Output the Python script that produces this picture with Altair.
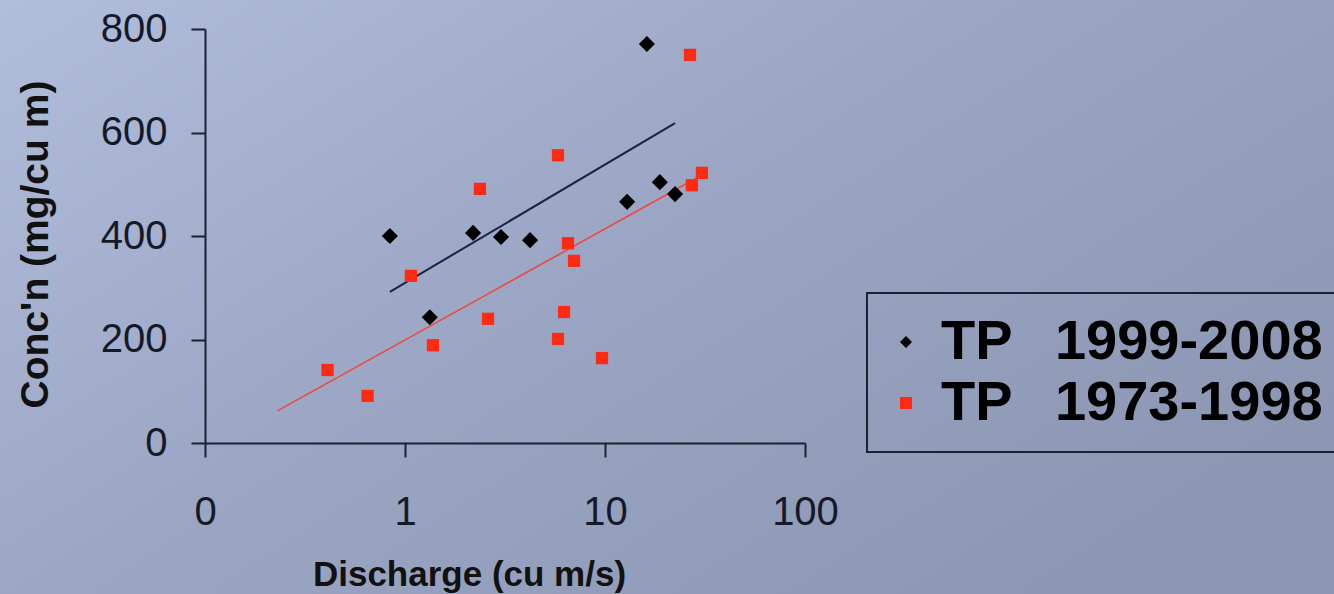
import altair as alt
import pandas as pd

# ---------------- data ----------------
GAP = "\u00a0\u00a0\u2009"
s_recent = "TP" + GAP + "1999-2008"
s_old = "TP" + GAP + "1973-1998"

recent_q = [0.84, 1.33, 2.19, 3.02, 4.22, 12.9, 16.2, 18.8, 22.4]
recent_c = [400, 243, 406, 398, 392, 466, 771, 504, 481]

old_q = [0.41, 0.65, 1.07, 1.38, 2.37, 2.6, 5.82, 5.82, 6.24, 6.53, 7.0, 9.66, 26.6, 27.2, 30.5]
old_c = [141, 91, 323, 189, 491, 240, 556, 201, 253, 386, 352, 164, 750, 498, 522]

trend_recent_q = [0.84, 22.4]
trend_recent_c = [292, 618]
trend_old_q = [0.23, 29.9]
trend_old_c = [62, 516]

x_ticks = [0.1, 1, 10, 100]
y_ticks = [0, 200, 400, 600, 800]

# ---------------- tables ----------------
pts = pd.DataFrame({
    "q": recent_q + old_q,
    "c": recent_c + old_c,
    "series": [s_recent] * len(recent_q) + [s_old] * len(old_q),
})
lines = pd.DataFrame({
    "q": trend_recent_q + trend_old_q,
    "c": trend_recent_c + trend_old_c,
    "series": [s_recent] * 2 + [s_old] * 2,
})

FONT = "Liberation Sans"
AXIS_COLOR = "#1b2133"

x_enc = alt.X(
    "q:Q",
    scale=alt.Scale(type="log", domain=[0.1, 100], nice=False),
    axis=alt.Axis(
        values=x_ticks,
        labelExpr="'' + round(datum.value)",
        labelFlush=False,
        title="Discharge (cu m/s)",
        titleFontSize=35,
        titleX=264, titleY=131, titleAlign="center", titleBaseline="middle",
        labelPadding=35, zindex=1,
    ),
)
y_enc = alt.Y(
    "c:Q",
    scale=alt.Scale(domain=[0, 800], nice=False, zero=True),
    axis=alt.Axis(
        values=y_ticks,
        labelFlush=False,
        title="Conc'n (mg/cu m)",
        titleFontSize=39,
        titleX=-170, titleY=215, titleAlign="center", titleBaseline="middle",
        titleAngle=270,
        labelPadding=24, zindex=1,
    ),
)

legend = alt.Legend(
    orient="none", legendX=662, legendY=264, title=None,
    labelFontSize=56, labelFont=FONT, labelFontWeight="bold", labelColor="#000000",
    labelLimit=2000,
    symbolSize=144, strokeColor=AXIS_COLOR, padding=21, rowPadding=5,
    labelOffset=7, symbolOffset=-10, symbolStrokeWidth=0, zindex=1,
)
color_enc = alt.Color(
    "series:N",
    scale=alt.Scale(domain=[s_recent, s_old], range=["#000000", "#ff2a12"]),
    legend=legend,
)
shape_enc = alt.Shape(
    "series:N",
    scale=alt.Scale(domain=[s_recent, s_old], range=["diamond", "square"]),
    legend=legend,
)

bg = alt.Chart(pd.DataFrame({"k": [0]})).mark_rect(
    color=alt.Gradient(
        gradient="linear",
        stops=[
            alt.GradientStop(color="#b0bddb", offset=0),
            alt.GradientStop(color="#9ba6c4", offset=0.5),
            alt.GradientStop(color="#8c97b4", offset=1),
        ],
        x1=0, y1=0, x2=1, y2=0.7,
    )
).encode(
    x=alt.value(-205), x2=alt.value(1129), y=alt.value(-29), y2=alt.value(565)
)

line_recent = alt.Chart(lines).transform_filter(
    alt.datum.series == s_recent
).mark_line(color="#1a2340", strokeWidth=2).encode(x=x_enc, y=y_enc)

line_old = alt.Chart(lines).transform_filter(
    alt.datum.series == s_old
).mark_line(color="#ec4a3c", strokeWidth=1.6).encode(x=x_enc, y=y_enc)

pts_recent = alt.Chart(pts).transform_filter(
    alt.datum.series == s_recent
).mark_point(filled=True, size=260, opacity=1, strokeWidth=0).encode(
    x=x_enc, y=y_enc, color=color_enc, shape=shape_enc
)
pts_old = alt.Chart(pts).transform_filter(
    alt.datum.series == s_old
).mark_point(filled=True, size=150, opacity=1, strokeWidth=0).encode(
    x=x_enc, y=y_enc, color=color_enc, shape=shape_enc
)

chart = alt.layer(bg, line_recent, line_old, pts_recent, pts_old).properties(
    width=600,
    height=414,
    autosize=alt.AutoSizeParams(type="none"),
    padding={"left": 205, "top": 29, "right": 529, "bottom": 151},
    background="#9ba6c4",
).configure_view(
    stroke=None
).configure_axis(
    grid=False,
    domainColor=AXIS_COLOR, domainWidth=2,
    tickColor=AXIS_COLOR, tickWidth=2, tickSize=14,
    labelFont=FONT, labelFontSize=40, labelColor="#151a28",
    titleFont=FONT, titleFontWeight="bold", titleColor="#111111",
).configure_legend(
    strokeWidth=2
)

chart.save("out.html", embed_options={"renderer": "svg", "actions": False})
